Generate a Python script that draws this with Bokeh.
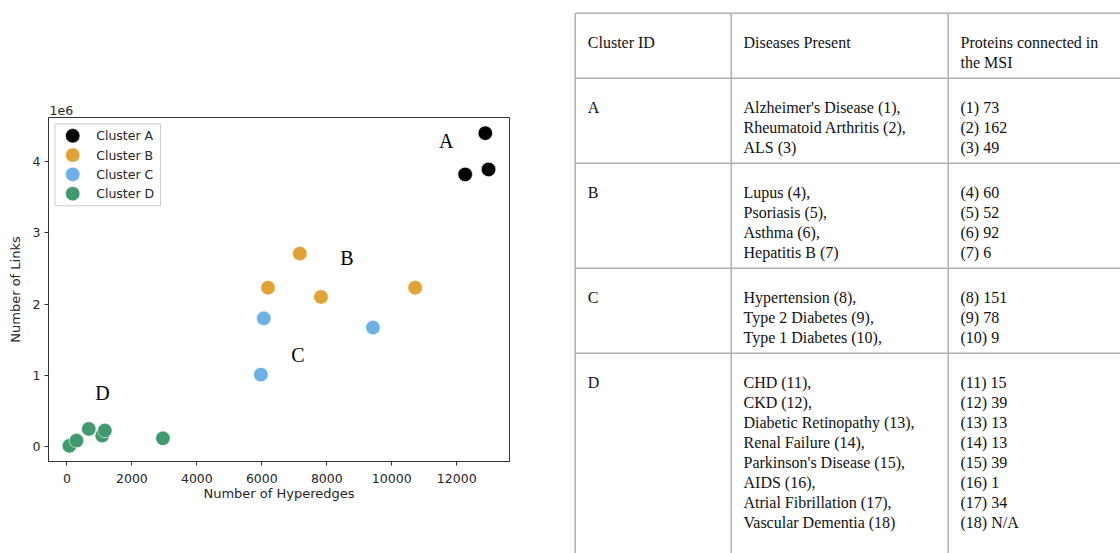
from bokeh.plotting import figure
from bokeh.models import Range1d, FixedTicker
from bokeh.layouts import row
from bokeh.embed import file_html
from bokeh.resources import INLINE
from bokeh.core.properties import value

# ---------------- scatter data ----------------
cluster_names = ["Cluster A", "Cluster B", "Cluster C", "Cluster D"]
cluster_colors = ["#000000", "#E1A236", "#6CB2E6", "#40996F"]

hyperedges_a = [12880, 12260, 12980]
links_a = [4400000, 3820000, 3890000]
hyperedges_b = [7170, 6190, 7820, 10720]
links_b = [2710000, 2230000, 2100000, 2230000]
hyperedges_c = [6060, 9420, 5970]
links_c = [1800000, 1670000, 1010000]
hyperedges_d = [77, 293, 672, 1086, 1166, 2955]
links_d = [10000, 84000, 248000, 154000, 225000, 116000]

letter_labels = ["A", "B", "C", "D"]
letter_x = [11675, 8621, 7110, 1095]
letter_y = [4295000, 2653000, 1291000, 758000]

x_ticks = [0, 2000, 4000, 6000, 8000, 10000, 12000]
y_ticks = [0, 1000000, 2000000, 3000000, 4000000]
y_tick_labels = ["0", "1", "2", "3", "4"]
y_scale_label = "1e6"

# ---------------- table data ----------------
table_header = ["Cluster ID", "Diseases Present", "Proteins connected in\nthe MSI"]
table_ids = ["A", "B", "C", "D"]
diseases_a = ["Alzheimer's Disease (1),", "Rheumatoid Arthritis (2),", "ALS (3)"]
diseases_b = ["Lupus (4),", "Psoriasis (5),", "Asthma (6),", "Hepatitis B (7)"]
diseases_c = ["Hypertension (8),", "Type 2 Diabetes (9),", "Type 1 Diabetes (10),"]
diseases_d = ["CHD (11),", "CKD (12),", "Diabetic Retinopathy (13),", "Renal Failure (14),",
              "Parkinson's Disease (15),", "AIDS (16),", "Atrial Fibrillation (17),",
              "Vascular  Dementia (18)"]
proteins_a = ["(1) 73", "(2) 162", "(3) 49"]
proteins_b = ["(4) 60", "(5) 52", "(6) 92", "(7) 6"]
proteins_c = ["(8) 151", "(9) 78", "(10) 9"]
proteins_d = ["(11) 15", "(12) 39", "(13) 13", "(14) 13", "(15) 39", "(16) 1", "(17) 34", "(18) N/A"]

# ---------------- scatter figure ----------------
all_x = hyperedges_a + hyperedges_b + hyperedges_c + hyperedges_d
all_y = links_a + links_b + links_c + links_d
xpad = 0.05 * (max(all_x) - min(all_x))
ypad = 0.05 * (max(all_y) - min(all_y))

FONT = "DejaVu Sans"
TXT = "#262626"
FIG_W, FIG_H = 572, 553
B_L, B_R, B_T, B_B = 48, 63, 117, 92
FRAME_W, FRAME_H = FIG_W - B_L - B_R, FIG_H - B_T - B_B

p = figure(width=FIG_W, height=FIG_H, output_backend="svg", toolbar_location=None,
           x_range=Range1d(min(all_x) - xpad, max(all_x) + xpad),
           y_range=Range1d(min(all_y) - ypad, max(all_y) + ypad),
           min_border_left=B_L, min_border_right=B_R, min_border_top=B_T, min_border_bottom=B_B,
           frame_align=False)
p.xgrid.visible = False
p.ygrid.visible = False
p.outline_line_color = "#333333"
p.outline_line_width = 1
p.background_fill_color = "white"
p.border_fill_color = "white"

# "1e6" offset text above the y axis (as matplotlib draws it)
p.title.text = y_scale_label
p.title.align = "left"
p.title.text_font = FONT
p.title.text_font_size = "12.5px"
p.title.text_font_style = "normal"
p.title.text_color = TXT
p.title.offset = 1
p.title.standoff = 5

p.xaxis.ticker = FixedTicker(ticks=x_ticks)
p.yaxis.ticker = FixedTicker(ticks=y_ticks)
p.yaxis.major_label_overrides = {t: l for t, l in zip(y_ticks, y_tick_labels)}
p.xaxis.axis_label = "Number of Hyperedges"
p.yaxis.axis_label = "Number of Links"
for ax in (p.xaxis, p.yaxis):
    ax.axis_line_color = "#333333"
    ax.major_tick_line_color = "#333333"
    ax.major_tick_out = 4
    ax.major_tick_in = 0
    ax.minor_tick_line_color = None
    ax.major_label_text_font = FONT
    ax.major_label_text_font_size = "12.5px"
    ax.major_label_text_color = TXT
    ax.major_label_standoff = 4
    ax.axis_label_text_font = FONT
    ax.axis_label_text_font_size = "13px"
    ax.axis_label_text_font_style = "normal"
    ax.axis_label_text_color = TXT
p.xaxis.major_label_standoff = 8
p.xaxis.axis_label_standoff = 0
p.yaxis.axis_label_standoff = 7

series = [(hyperedges_a, links_a), (hyperedges_b, links_b), (hyperedges_c, links_c), (hyperedges_d, links_d)]
for (xs, ys), color in zip(series, cluster_colors):
    p.scatter(xs, ys, size=14.5, fill_color=color, line_color="white", line_width=0.6)

p.text(x=letter_x, y=letter_y, text=letter_labels, text_font=value("Liberation Serif"),
       text_font_size="20px", text_align="center", text_baseline="middle", text_color="#000000")

# ---- legend (matplotlib-style), laid out in frame pixel units ----
p.extra_x_ranges = {"lg": Range1d(0, FRAME_W)}
p.extra_y_ranges = {"lg": Range1d(FRAME_H, 0)}
LG_L, LG_T, LG_W, LG_H = 6.5, 6.3, 105.5, 82
ITEM_Y0, ITEM_STEP = 18.3, 19.3
MARK_X, TEXT_X = 24.2, 47.7
p.quad(left=[LG_L], right=[LG_L + LG_W], top=[LG_T], bottom=[LG_T + LG_H],
       fill_color="white", fill_alpha=0.8, line_color="#cccccc", line_width=1,
       x_range_name="lg", y_range_name="lg")
item_y = [ITEM_Y0 + i * ITEM_STEP for i in range(len(cluster_names))]
p.scatter(x=[MARK_X] * len(cluster_names), y=item_y, size=14.5, fill_color=cluster_colors,
          line_color="white", line_width=0.6, x_range_name="lg", y_range_name="lg")
p.text(x=[TEXT_X] * len(cluster_names), y=item_y, text=cluster_names, text_font=value(FONT),
       text_font_size="12.5px", text_color=TXT, text_baseline="middle", text_align="left",
       x_range_name="lg", y_range_name="lg")

# ---------------- table figure ----------------
TW, TH = 548, 553
t = figure(width=TW, height=TH, output_backend="svg", toolbar_location=None,
           x_range=Range1d(0, TW), y_range=Range1d(TH, 0),
           x_axis_type=None, y_axis_type=None, min_border=0, frame_align=False)
t.xgrid.visible = False
t.ygrid.visible = False
t.outline_line_color = None
t.background_fill_color = "white"
t.border_fill_color = "white"

col_lines = [2.7, 158.7, 375.7]
col_text_x = [15.3, 171, 388]
top = 12.7
first_base = 29
line_step = 20

row_cells = [[[table_header[0]], [table_header[1]], table_header[2].split("\n")]]
for cid, dis, pro in zip(table_ids, [diseases_a, diseases_b, diseases_c, diseases_d],
                         [proteins_a, proteins_b, proteins_c, proteins_d]):
    row_cells.append([[cid], dis, pro])

tx, ty, tt = [], [], []
hx0, hx1, hy = [], [], []
y = top
for cells in row_cells:
    # horizontal rule at the top of each row
    hx0.append(col_lines[0]); hx1.append(TW); hy.append(y)
    n = max(len(c) for c in cells)
    for ci, c in enumerate(cells):
        for li, s in enumerate(c):
            tx.append(col_text_x[ci])
            ty.append(y + first_base + line_step * li)
            tt.append(s)
    y = y + 45 + line_step * (n - 1)

t.segment(x0=hx0, y0=hy, x1=hx1, y1=hy, line_color="#b0b0b0", line_width=1.5)
t.segment(x0=col_lines, y0=[top] * 3, x1=col_lines, y1=[TH] * 3, line_color="#b0b0b0", line_width=1.5)
t.text(x=tx, y=ty, text=tt, text_font=value("Liberation Serif"), text_font_size="16px",
       text_align="left", text_baseline="alphabetic", text_color="#111111")

layout = row(p, t)
open("out.html", "w").write(file_html(layout, INLINE))
